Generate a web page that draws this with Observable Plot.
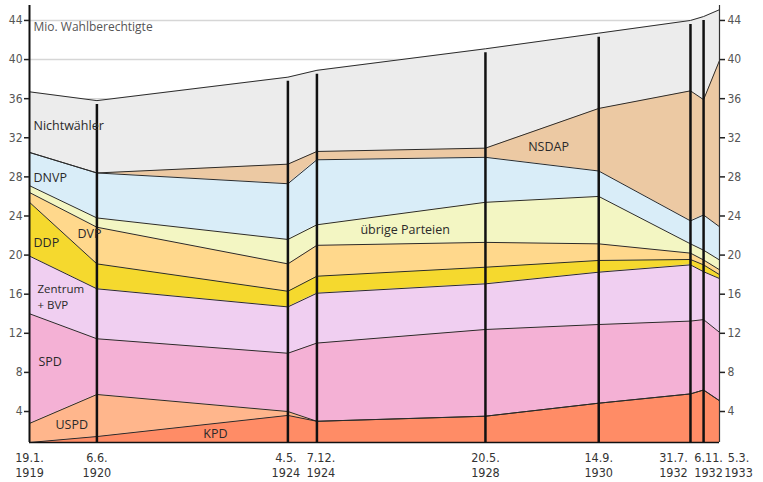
<!DOCTYPE html>
<html><head><meta charset="utf-8">
<script src="https://cdn.jsdelivr.net/npm/d3@7"></script>
<script src="https://cdn.jsdelivr.net/npm/@observablehq/plot@0.6"></script>
<style>
body{margin:0;background:#fff}
svg{display:block}
</style>
</head><body><div id="chart"></div>
<script>
// Election dates and their axis labels
const electionDates = ["1919-01-19","1920-06-06","1924-05-04","1924-12-07","1928-05-20","1930-09-14","1932-07-31","1932-11-06","1933-03-05"];
const dateLabels = ["19.1.\n1919","6.6.\n1920","4.5.\n1924","7.12.\n1924","20.5.\n1928","14.9.\n1930","31.7.\n1932","6.11.\n1932","5.3.\n1933"];

// Stack order, bottom to top
const parties = ["KPD","USPD","SPD","Zentrum + BVP","DDP","DVP","übrige Parteien","DNVP","NSDAP","Nichtwähler"];
const partyColors = ["#ff8c66","#ffb68c","#f4b1d5","#f0cff1","#f5d92e","#ffd88c","#f3f6c3","#d9edf8","#ecc9a3","#ececec"];

// Millions of eligible voters per group
const kpd        = [0, 0.61, 2.77, 2.17, 2.69, 4.02, 4.97, 5.37, 4.27];
const uspd       = [1.95, 4.30, 0.40, 0, 0, 0, 0, 0, 0];
const spd        = [11.22, 5.70, 5.96, 8.00, 8.87, 8.05, 7.45, 7.20, 7.00];
const zentrum    = [5.90, 5.11, 4.74, 5.10, 4.67, 5.35, 5.75, 4.90, 5.50];
const ddp        = [5.50, 2.55, 1.60, 1.74, 1.70, 1.20, 0.55, 0.70, 0.40];
const dvp        = [1.00, 3.75, 2.80, 3.16, 2.54, 1.70, 0.65, 0.50, 0.50];
const uebrige    = [0.70, 0.95, 2.50, 2.10, 4.10, 4.85, 0.95, 1.00, 1.00];
const dnvp       = [3.40, 4.60, 5.70, 6.65, 4.60, 2.60, 2.35, 3.60, 3.40];
const nsdap      = [0, 0, 2.00, 0.85, 0.94, 6.40, 13.30, 11.80, 17.00];
const nichtwaehler = [6.20, 7.40, 8.90, 8.30, 10.16, 7.70, 7.20, 8.50, 5.20];
const series = [kpd, uspd, spd, zentrum, ddp, dvp, uebrige, dnvp, nsdap, nichtwaehler];

// y axis
const yTicks = [4,8,12,16,20,24,28,32,36,40,44];
const yBase = 0.83;     // value at which the chart's floor sits
const yTop = 45.53;

// Labels inside the chart
const leftLabels = [
  {label: "Nichtwähler", date: "1919-02-18", value: 33.2},
  {label: "DNVP", date: "1919-02-18", value: 27.9},
  {label: "DDP", date: "1919-02-18", value: 21.2},
  {label: "DVP", date: "1920-01-13", value: 22.2},
  {label: "SPD", date: "1919-03-27", value: 9.1},
  {label: "USPD", date: "1919-08-01", value: 2.67}
];
const zentrumLabel = [
  {label: "Zentrum", date: "1919-03-20", value: 16.55},
  {label: "+ BVP", date: "1919-03-20", value: 14.9}
];
const centerLabels = [
  {label: "KPD", date: "1922-11-09", value: 1.65},
  {label: "übrige Parteien", date: "1926-09-28", value: 22.6},
  {label: "NSDAP", date: "1929-09-04", value: 31.1}
];
const unitLabel = {label: "Mio. Wahlberechtigte", date: "1919-02-18", value: 43.3};

// ---- build tables ----
const dates = electionDates.map(d => new Date(d + "T00:00:00"));
const rows = [];
const totals = [];
dates.forEach((date, i) => {
  let cum = yBase;
  parties.forEach((party, p) => {
    const y1 = cum, y2 = cum + series[p][i];
    rows.push({date, party, y1, y2});
    cum = y2;
  });
  totals.push({date, total: cum, index: i});
});
const pd = d => new Date(d + "T00:00:00");

const narrow = "'Liberation Sans Narrow','DejaVu Sans Condensed',sans-serif";
const sans = "'Open Sans','Noto Sans',sans-serif";

const xLabel = (idx, dx) => Plot.text(dates.map((d, i) => ({d, i})).filter(o => idx.includes(o.i)), {
  x: "d", text: o => dateLabels[o.i], frameAnchor: "bottom", lineAnchor: "top",
  dy: 8, dx, fontSize: 12.5, fontFamily: narrow, fill: "#333", lineHeight: 1.25
});

const chart = Plot.plot({
  width: 763,
  height: 482,
  marginLeft: 29,
  marginRight: 44,
  marginTop: 5,
  marginBottom: 40,
  x: {type: "time", domain: [dates[0], dates[dates.length - 1]], axis: null},
  y: {domain: [yBase, yTop], axis: null},
  color: {domain: parties, range: partyColors},
  style: {fontFamily: sans, background: "#fff"},
  marks: [
    Plot.ruleY(yTicks, {stroke: "#d6d6d6", strokeWidth: 1.5}),
    Plot.areaY(rows, {x: "date", y1: "y1", y2: "y2", z: "party", fill: "party"}),
    Plot.lineY(rows, {x: "date", y: "y2", z: "party", stroke: "#2b2b2b", strokeWidth: 1}),
    Plot.ruleX(totals.filter(t => t.index > 0 && t.index < dates.length - 1), {
      x: "date", y1: yBase, y2: "total", stroke: "#111", strokeWidth: 2.5, insetBottom: -4
    }),
    Plot.ruleY([yBase], {stroke: "#111", strokeWidth: 1.5}),
    Plot.ruleX([dates[0]], {stroke: "#111", strokeWidth: 2}),
    Plot.ruleX([dates[dates.length - 1]], {stroke: "#333", strokeWidth: 1.2}),
    Plot.axisY(yTicks, {anchor: "left", tickSize: 5, tickPadding: 2, fontSize: 12, fontFamily: narrow, fill: "#555", stroke: "#222", strokeWidth: 1.5, label: null}),
    Plot.axisY(yTicks, {anchor: "right", tickSize: 5, tickPadding: 3, fontSize: 12, fontFamily: narrow, fill: "#555", stroke: "#222", strokeWidth: 1.5, label: null}),
    xLabel([0, 1, 4, 5], 0),
    xLabel([2], -2),
    xLabel([3], 4),
    xLabel([6], -17),
    xLabel([7], 5),
    xLabel([8], 19),
    Plot.text([unitLabel], {x: d => pd(d.date), y: "value", text: "label", textAnchor: "start", fontSize: 12, fill: "#555"}),
    Plot.text(leftLabels, {x: d => pd(d.date), y: "value", text: "label", textAnchor: "start", fontSize: 12.5, fill: "#2a2a2a"}),
    Plot.text(zentrumLabel, {x: d => pd(d.date), y: "value", text: "label", textAnchor: "start", fontSize: 11.5, fill: "#2a2a2a"}),
    Plot.text(centerLabels, {x: d => pd(d.date), y: "value", text: "label", textAnchor: "middle", fontSize: 12.5, fill: "#2a2a2a"})
  ]
});
document.getElementById("chart").appendChild(chart);
</script>
</body></html>
